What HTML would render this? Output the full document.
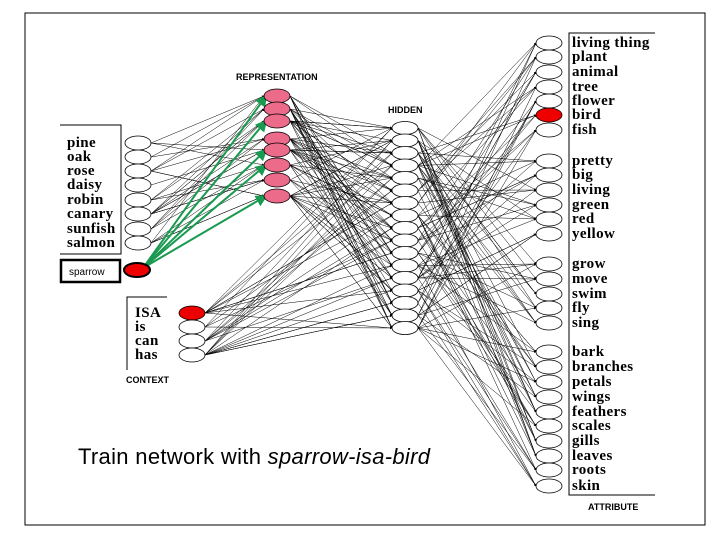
<!DOCTYPE html>
<html><head><meta charset="utf-8"><style>
body{margin:0;background:#fff}
svg text{font-family:"Liberation Serif",serif;font-weight:bold}
.s{font-family:"Liberation Sans",sans-serif;font-weight:bold;font-size:9px;letter-spacing:0}
</style></head><body>
<svg id="g" width="720" height="540" xmlns="http://www.w3.org/2000/svg">
<defs><marker id="a" markerWidth="5" markerHeight="5" refX="4" refY="2.5" orient="auto"><path d="M0,0L5,2.5L0,5z" fill="#000"/></marker>
<marker id="ga" markerWidth="6" markerHeight="6" refX="5" refY="3" orient="auto"><path d="M0,0L6,3L0,6z" fill="#1a9a50"/></marker></defs>
<rect x="25" y="13" width="680" height="512" fill="none" stroke="#000" stroke-width="1"/>
<g id="lines" stroke="#000" stroke-width="0.5" fill="none"></g>
<g id="green" stroke="#1a9a50" stroke-width="2" fill="none"></g>
<g id="nodes" stroke="#000" stroke-width="0.8"></g>
<path d="M60,125H121V254H60" fill="none" stroke="#000"/>
<rect x="61" y="260" width="59" height="22" fill="none" stroke="#000" stroke-width="2.5"/>
<path d="M167,297H127V370" fill="none" stroke="#000"/>
<path d="M655,33H569V495H655" fill="none" stroke="#000"/>
<g font-size="15" letter-spacing="0.4">
<text x="67" y="147">pine</text><text x="67" y="161">oak</text><text x="67" y="175">rose</text><text x="67" y="189">daisy</text><text x="67" y="204">robin</text><text x="67" y="218">canary</text><text x="67" y="233">sunfish</text><text x="67" y="247">salmon</text>
<text x="135" y="317">ISA</text><text x="135" y="331">is</text><text x="135" y="345">can</text><text x="135" y="359">has</text>
</g>
<text x="69" y="275" style="font-family:'Liberation Sans',sans-serif;font-weight:normal" font-size="10">sparrow</text>
<text class="s" x="236" y="80">REPRESENTATION</text>
<text class="s" x="388" y="113">HIDDEN</text>
<text class="s" x="126" y="383">CONTEXT</text>
<text class="s" x="588" y="510">ATTRIBUTE</text>
<g id="attrlab" font-size="15" letter-spacing="0.4"></g>
<text x="78" y="464" style="font-family:'Liberation Sans',sans-serif;font-weight:normal" font-size="22" textLength="352">Train network with <tspan font-style="italic">sparrow-isa-bird</tspan></text>
</svg>
<script>
var NS="http://www.w3.org/2000/svg";
function el(p,t,a){var e=document.createElementNS(NS,t);for(var k in a)e.setAttribute(k,a[k]);document.getElementById(p).appendChild(e);return e;}
var items=[143,157,171,185,200,214,229,243],rep=[96,109,121,139,150,165,180,196],hid=[],ctx=[313,327,341,355];
for(var i=0;i<17;i++)hid.push(128+i*12.5);
var at=[43,57,72,87,101,115,130,161,175,190,205,219,234,264,279,294,308,323,352,367,382,397,412,426,441,456,470,486];
var names=["living thing","plant","animal","tree","flower","bird","fish","pretty","big","living","green","red","yellow","grow","move","swim","fly","sing","bark","branches","petals","wings","feathers","scales","gills","leaves","roots","skin"];
var seed=7;function rnd(){seed=(seed*16807)%2147483647;return seed/2147483647;}
function conn(x1,A,x2,B,n){B.forEach(function(b){for(var k=0;k<n;k++){var a=A[Math.floor(rnd()*A.length)];el("lines","line",{x1:x1,y1:a,x2:x2,y2:b,"marker-end":"url(#a)"});}});}
conn(151,items,264,rep,4);conn(290,rep,392,hid,5);conn(205,ctx,392,hid,2);conn(418,hid,536,at,4);
[96,121,150,165,196].forEach(function(y){el("green","line",{x1:143,y1:268,x2:266,y2:y,"marker-end":"url(#ga)"});});
items.forEach(function(y){el("nodes","ellipse",{cx:138,cy:y,rx:13,ry:7,fill:"#fff"});});
el("nodes","ellipse",{cx:137,cy:270,rx:13,ry:7,fill:"#e00",stroke:"#000","stroke-width":2});
rep.forEach(function(y){el("nodes","ellipse",{cx:277,cy:y,rx:13,ry:7,fill:"#ec6a8a"});});
hid.forEach(function(y){el("nodes","ellipse",{cx:405,cy:y,rx:13,ry:6.5,fill:"#fff"});});
ctx.forEach(function(y,i){el("nodes","ellipse",{cx:192,cy:y,rx:13,ry:7,fill:i==0?"#e00":"#fff"});});
at.forEach(function(y,i){el("nodes","ellipse",{cx:549,cy:y,rx:13,ry:7,fill:i==5?"#e00":"#fff"});var t=el("attrlab","text",{x:572,y:y+4});t.textContent=names[i];});
</script>
</body></html>
